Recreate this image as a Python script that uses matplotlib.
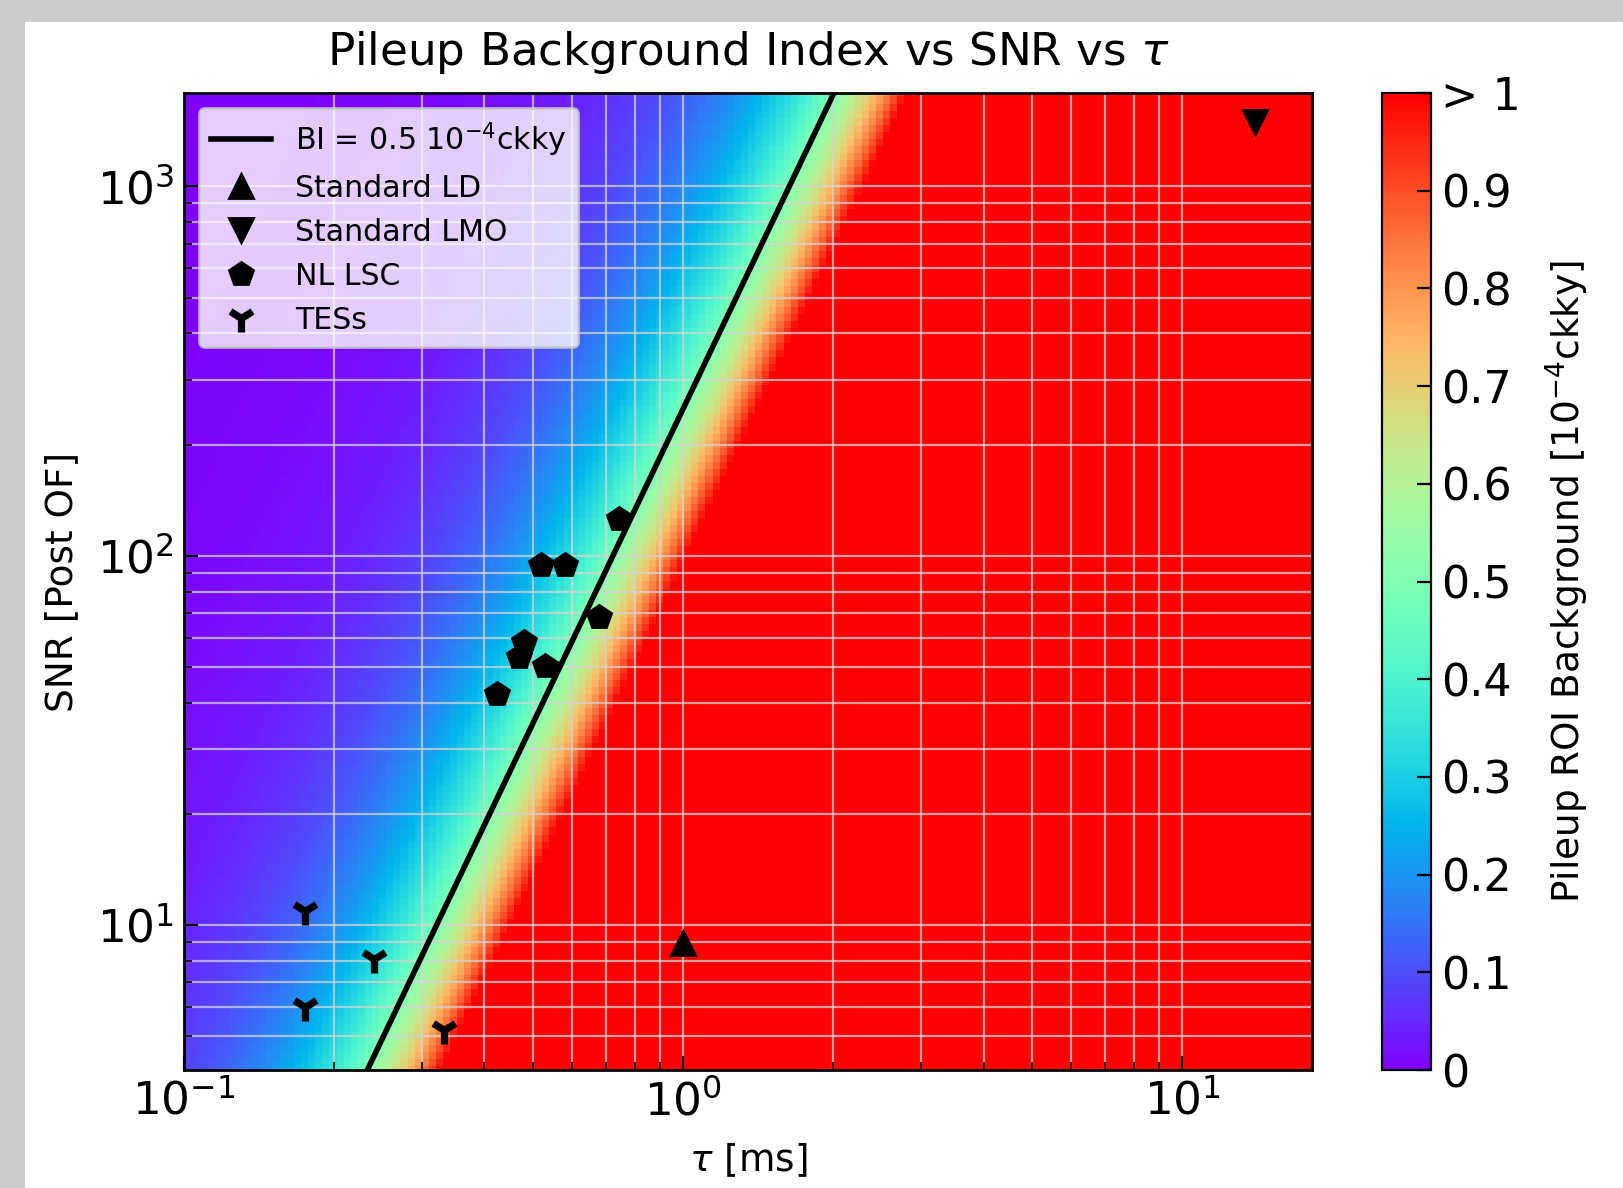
import matplotlib
matplotlib.use('Agg')
import matplotlib.pyplot as plt
import numpy as np
from matplotlib.lines import Line2D
from matplotlib.patches import Rectangle

plt.rcParams['font.family'] = ['DejaVu Sans']

# detector points
LD_TAU = [1.0]
LD_SNR = [8.96]
LMO_TAU = [14.0]
LMO_SNR = [1490.0]
LSC_TAU = [0.743, 0.518, 0.580, 0.679, 0.480, 0.469, 0.530, 0.423]
LSC_SNR = [125.5, 94.2, 94.2, 68.4, 58.5, 53.3, 50.4, 42.2]
TES_TAU = [0.175, 0.240, 0.175, 0.332]
TES_SNR = [10.9, 8.1, 6.0, 5.2]

# background model: BI = 0.5 along SNR = SNR_REF * (tau / TAU_REF)^SLOPE
TAU_REF = 0.233
SNR_REF = 4.05
SLOPE = 2.83
POWER = 2.05
BI_LEVEL = 0.5

TAU_RANGE = (0.1, 18.2)
SNR_RANGE = (4.05, 1790.0)
CBAR_TICKS = [0, 0.1, 0.2, 0.3, 0.4, 0.5, 0.6, 0.7, 0.8, 0.9, 1.0]
CBAR_LABELS = ['0', '0.1', '0.2', '0.3', '0.4', '0.5', '0.6', '0.7', '0.8', '0.9', '> 1']


def background_index(tau, snr):
    tau_half = TAU_REF * (snr / SNR_REF) ** (1.0 / SLOPE)
    return BI_LEVEL * (tau / tau_half) ** POWER


fig = plt.figure(figsize=(8.12, 5.94), dpi=200, facecolor='#cccccc')
fig.patches.append(Rectangle((25 / 1624, 0), 1, 1 - 22 / 1188, transform=fig.transFigure,
                             facecolor='white', edgecolor='none', zorder=-10))

ax = fig.add_axes([0.1133, 0.0993, 0.6946, 0.8224])
cax = fig.add_axes([0.8507, 0.0993, 0.0306, 0.8224])

tau_grid = np.logspace(np.log10(TAU_RANGE[0]), np.log10(TAU_RANGE[1]), 160)
snr_grid = np.logspace(np.log10(SNR_RANGE[0]), np.log10(SNR_RANGE[1]), 140)
T, S = np.meshgrid(tau_grid, snr_grid)
mesh = ax.pcolormesh(T, S, background_index(T, S), cmap='rainbow', vmin=0, vmax=1,
                     shading='nearest', rasterized=True)

tau_line = np.logspace(np.log10(TAU_REF), np.log10(TAU_RANGE[1]), 50)
snr_line = SNR_REF * (tau_line / TAU_REF) ** SLOPE
ax.plot(tau_line, snr_line, color='k', lw=2)

ax.plot(LD_TAU, LD_SNR, '^', color='k', ms=8.5)
ax.plot(LMO_TAU, LMO_SNR, 'v', color='k', ms=8.5)
ax.plot(LSC_TAU, LSC_SNR, 'p', color='k', ms=9)
ax.plot(TES_TAU, TES_SNR, '1', color='k', ms=10, mew=2.6)

ax.set_xscale('log')
ax.set_yscale('log')
ax.set_xlim(*TAU_RANGE)
ax.set_ylim(*SNR_RANGE)
ax.grid(True, which='both', color='lightgray', alpha=0.75, lw=0.8)
ax.tick_params(which='both', direction='in', labelsize=16.3)
ax.tick_params(which='major', length=5)
ax.tick_params(which='minor', length=3)
ax.set_xlabel(r'$\tau$ [ms]', fontsize=13.5, labelpad=6)
ax.set_ylabel('SNR [Post OF]', fontsize=13.5, labelpad=6)
ax.set_title(r'Pileup Background Index vs SNR vs $\tau$', fontsize=16.3, pad=10)
for sp in ax.spines.values():
    sp.set_linewidth(1.0)

handles = [
    Line2D([], [], color='k', lw=2),
    Line2D([], [], marker='^', color='k', ls='none', ms=8.5),
    Line2D([], [], marker='v', color='k', ls='none', ms=8.5),
    Line2D([], [], marker='p', color='k', ls='none', ms=9),
    Line2D([], [], marker='1', color='k', ls='none', ms=10, mew=2.6),
]
labels = [r'BI = 0.5 10$^{-4}$ckky', 'Standard LD', 'Standard LMO', 'NL LSC', 'TESs']
ax.legend(handles, labels, loc='upper left', fontsize=10.8, framealpha=0.8)

cbar = fig.colorbar(mesh, cax=cax, ticks=CBAR_TICKS)
cbar.ax.set_yticklabels(CBAR_LABELS)
cbar.ax.tick_params(direction='in', labelsize=16, length=5)
cbar.set_label(r'Pileup ROI Background [10$^{-4}$ckky]', fontsize=13.5, labelpad=8)

fig.savefig('out.png', dpi=200, facecolor=fig.get_facecolor())
